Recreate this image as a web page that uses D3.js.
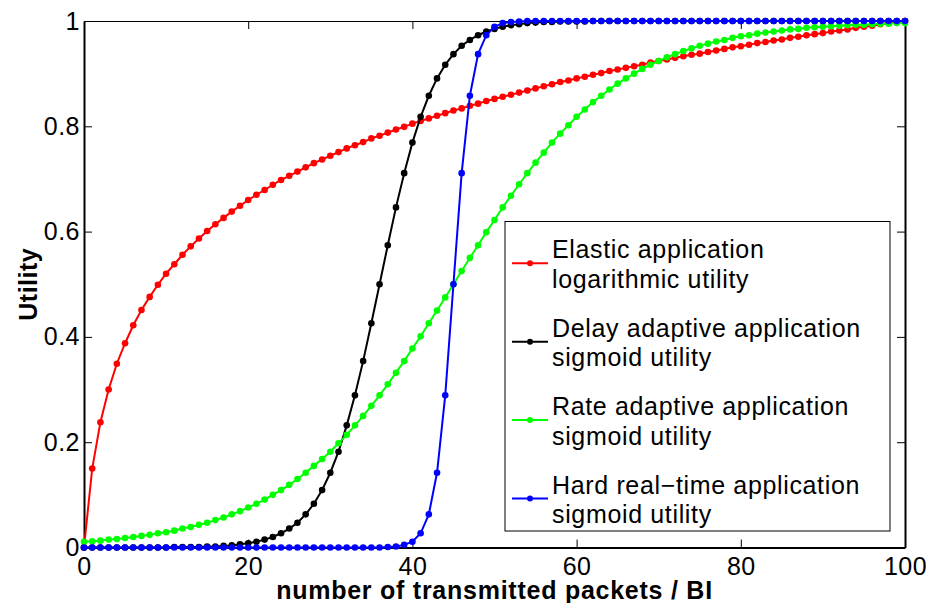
<!DOCTYPE html>
<html>
<head>
<meta charset="utf-8">
<script src="https://cdn.jsdelivr.net/npm/d3@7"></script>
<style>
  body { margin: 0; background: #fff; }
  svg { font-family: "Liberation Sans", Arial, Helvetica, sans-serif; }
</style>
</head>
<body>
<svg id="chart" width="926" height="603"></svg>
<script>
// packets per BI, 0..100
const packets = d3.range(0, 101);

const elastic = [
  0, .150, .238, .300, .349, .388, .422, .451, .476, .499,
  .520, .538, .556, .572, .587, .601, .614, .626, .638, .649,
  .660, .670, .679, .689, .698, .706, .714, .722, .730, .737,
  .744, .751, .758, .764, .770, .777, .782, .788, .794, .799,
  .805, .810, .815, .820, .825, .830, .834, .839, .843, .848,
  .852, .856, .860, .864, .868, .872, .876, .880, .884, .887,
  .891, .894, .898, .901, .905, .908, .911, .914, .917, .921,
  .924, .927, .930, .933, .936, .938, .941, .944, .947, .950,
  .952, .955, .958, .960, .963, .965, .968, .970, .973, .975,
  .977, .980, .982, .984, .987, .989, .991, .994, .996, .998,
  1
];

const delayAdaptive = [
  0, 0, 0, 0, 0, 0, 0, 0, 0, 0,
  0, .001, .001, .001, .001, .002, .002, .003, .004, .006,
  .008, .011, .015, .020, .027, .036, .047, .063, .083, .109,
  .142, .182, .232, .289, .354, .426, .500, .574, .646, .711,
  .769, .818, .858, .891, .917, .937, .953, .964, .973, .980,
  .985, .989, .992, .994, .996, .997, .998, .998, .999, .999,
  .999, .999, 1, 1, 1, 1, 1, 1, 1, 1,
  1, 1, 1, 1, 1, 1, 1, 1, 1, 1,
  1, 1, 1, 1, 1, 1, 1, 1, 1, 1,
  1, 1, 1, 1, 1, 1, 1, 1, 1, 1,
  1
];

const rateAdaptive = [
  .011, .012, .013, .015, .016, .018, .020, .022, .024, .027,
  .029, .032, .036, .039, .043, .047, .052, .057, .063, .069,
  .076, .083, .091, .100, .109, .119, .130, .142, .155, .168,
  .182, .198, .214, .232, .250, .269, .289, .310, .332, .354,
  .378, .401, .426, .450, .475, .500, .525, .550, .574, .599,
  .622, .646, .668, .690, .711, .731, .750, .769, .786, .802,
  .818, .832, .846, .858, .870, .881, .891, .900, .909, .917,
  .924, .931, .937, .943, .948, .953, .957, .961, .964, .968,
  .971, .973, .976, .978, .980, .982, .984, .985, .987, .988,
  .989, .990, .991, .992, .993, .993, .994, .995, .995, .996,
  .996
];

const hardRealTime = [
  0, 0, 0, 0, 0, 0, 0, 0, 0, 0,
  0, 0, 0, 0, 0, 0, 0, 0, 0, 0,
  0, 0, 0, 0, 0, 0, 0, 0, 0, 0,
  0, 0, 0, 0, 0, 0, 0, .001, .002, .005,
  .011, .027, .063, .142, .289, .500, .711, .858, .937, .973,
  .989, .996, .998, .999, 1, 1, 1, 1, 1, 1,
  1, 1, 1, 1, 1, 1, 1, 1, 1, 1,
  1, 1, 1, 1, 1, 1, 1, 1, 1, 1,
  1, 1, 1, 1, 1, 1, 1, 1, 1, 1,
  1, 1, 1, 1, 1, 1, 1, 1, 1, 1,
  1
];

const seriesNames = [
  ["Elastic application", "logarithmic utility"],
  ["Delay adaptive application", "sigmoid utility"],
  ["Rate adaptive application", "sigmoid utility"],
  ["Hard real\u2212time application", "sigmoid utility"]
];
const seriesColors = ["#ff0000", "#000000", "#00ff00", "#0000ff"];

const xTicks = [0, 20, 40, 60, 80, 100];
const yTicks = [0, 0.2, 0.4, 0.6, 0.8, 1];

const svg = d3.select("#chart");
const plotLeft = 84, plotRight = 905, plotTop = 21, plotBottom = 547.5;

let x = d3.scaleLinear().domain([0, 100]).range([plotLeft, plotRight]);
let y = d3.scaleLinear().domain([0, 1]).range([plotBottom, plotTop]);

// axes, matlab style: ticks inward on all four sides
svg.append("g")
  .attr("transform", `translate(0,${plotBottom})`)
  .call(d3.axisBottom(x).tickValues(xTicks).tickSize(-8).tickSizeOuter(0)
    .tickPadding(10).tickFormat((d) => String(d)))
  .call((g) => g.select(".domain").attr("stroke-width", 2));

svg.append("g")
  .attr("transform", `translate(${plotLeft},0)`)
  .call(d3.axisLeft(y).tickValues(yTicks).tickSize(-8).tickSizeOuter(0)
    .tickPadding(4).tickFormat((d) => String(d)))
  .call((g) => g.select(".domain").attr("stroke-width", 2));

svg.append("g")
  .attr("transform", `translate(0,${plotTop})`)
  .call(d3.axisTop(x).tickValues(xTicks).tickSize(-8).tickSizeOuter(0).tickFormat(""))
  .call((g) => g.select(".domain").attr("stroke-width", 1.2));

svg.append("g")
  .attr("transform", `translate(${plotRight},0)`)
  .call(d3.axisRight(y).tickValues(yTicks).tickSize(-8).tickSizeOuter(0).tickFormat(""))
  .call((g) => g.select(".domain").attr("stroke-width", 2));

svg.selectAll(".tick text")
  .attr("font-family", "Liberation Sans, Arial, sans-serif")
  .attr("font-size", 25)
  .attr("letter-spacing", 0.5)
  .attr("fill", "#000");
svg.selectAll(".tick line").attr("stroke", "#000");

// axis titles
svg.append("text")
  .attr("x", (plotLeft + plotRight) / 2)
  .attr("y", 599)
  .attr("text-anchor", "middle")
  .attr("font-size", 25)
  .attr("font-weight", "bold")
  .attr("letter-spacing", 0.75)
  .text("number of transmitted packets / BI");

svg.append("text")
  .attr("transform", `translate(37,${(plotTop + plotBottom) / 2}) rotate(-90)`)
  .attr("text-anchor", "middle")
  .attr("font-size", 25)
  .attr("font-weight", "bold")
  .attr("letter-spacing", 0.5)
  .text("Utility");

// curves
const allSeries = [elastic, delayAdaptive, rateAdaptive, hardRealTime];
let line = d3.line()
  .x((d, i) => x(packets[i]))
  .y((d) => y(d));

allSeries.forEach((values, s) => {
  let g = svg.append("g");
  g.append("path")
    .attr("d", line(values))
    .attr("fill", "none")
    .attr("stroke", seriesColors[s])
    .attr("stroke-width", 2);
  g.selectAll("circle")
    .data(values)
    .join("circle")
    .attr("cx", (d, i) => x(packets[i]))
    .attr("cy", (d) => y(d))
    .attr("r", 3.3)
    .attr("fill", seriesColors[s]);
});

// legend
const legend = svg.append("g");
legend.append("rect")
  .attr("x", 505).attr("y", 221.5)
  .attr("width", 385).attr("height", 309.5)
  .attr("fill", "#fff").attr("stroke", "#000").attr("stroke-width", 1);

seriesNames.forEach((name, i) => {
  let cy = 263.3 + i * 78.4;
  legend.append("line")
    .attr("x1", 512).attr("x2", 548)
    .attr("y1", cy).attr("y2", cy)
    .attr("stroke", seriesColors[i]).attr("stroke-width", 2);
  legend.append("circle")
    .attr("cx", 530).attr("cy", cy).attr("r", 3)
    .attr("fill", seriesColors[i]);
  let t = legend.append("text")
    .attr("font-size", 25)
    .attr("letter-spacing", 0.65)
    .attr("fill", "#000");
  t.append("tspan").attr("x", 552).attr("y", cy - 5).text(name[0]);
  t.append("tspan").attr("x", 552).attr("y", cy + 24.5).text(name[1]);
});
</script>
</body>
</html>
